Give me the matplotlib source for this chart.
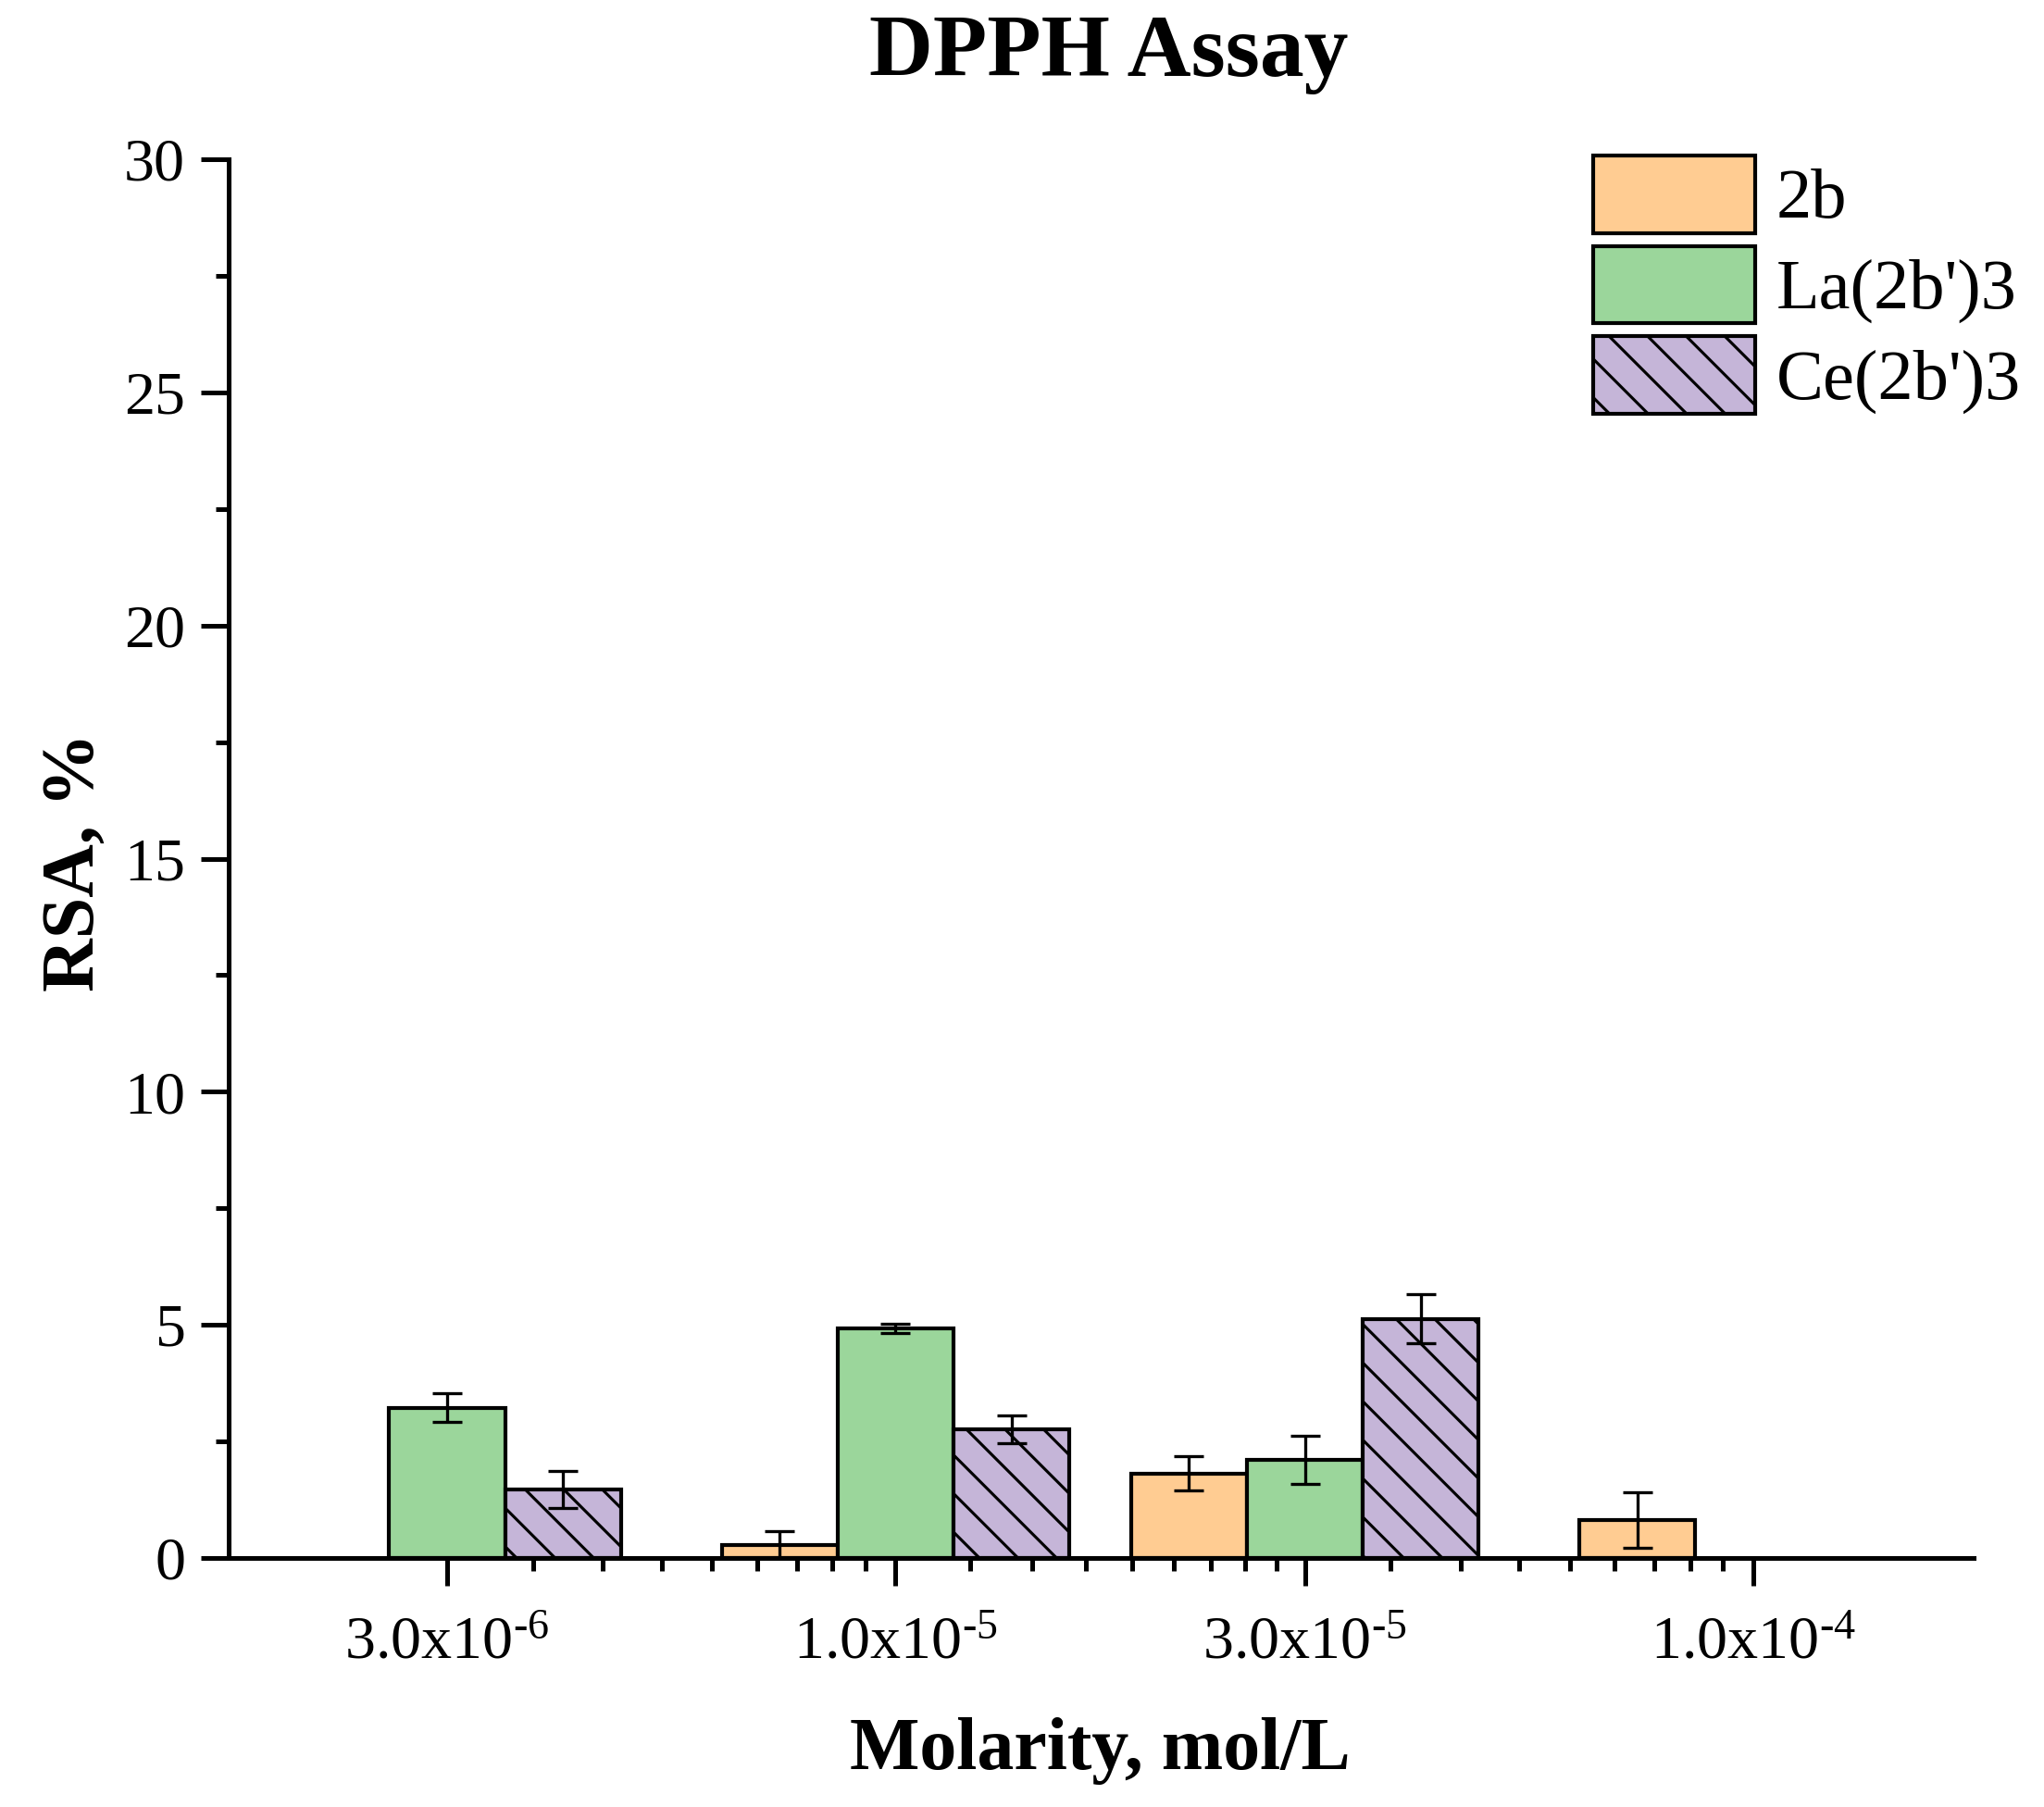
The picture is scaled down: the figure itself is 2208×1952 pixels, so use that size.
import numpy as np
import matplotlib
matplotlib.use("Agg")
import matplotlib.pyplot as plt
from matplotlib.ticker import FixedLocator, NullFormatter, FixedFormatter, MultipleLocator

plt.rcParams['font.family'] = ['Liberation Serif', 'DejaVu Serif']
plt.rcParams['mathtext.fontset'] = 'custom'
plt.rcParams['mathtext.rm'] = 'Liberation Serif'
plt.rcParams['mathtext.it'] = 'Liberation Serif:italic'
plt.rcParams['mathtext.bf'] = 'Liberation Serif:bold'
plt.rcParams['hatch.linewidth'] = 0.9
plt.rcParams['hatch.color'] = 'black'

# ---- data ----
molarity = [3.0e-6, 1.0e-5, 3.0e-5, 1.0e-4]
tick_labels = [r"3.0x10$^{\text{-6}}$", r"1.0x10$^{\text{-5}}$",
               r"3.0x10$^{\text{-5}}$", r"1.0x10$^{\text{-4}}$"]
series_names = ["2b", "La(2b')3", "Ce(2b')3"]
rsa_2b = [np.nan, 0.27, 1.81, 0.81]
err_2b = [np.nan, 0.30, 0.37, 0.59]
rsa_la = [3.22, 4.93, 2.11, np.nan]
err_la = [0.31, 0.10, 0.52, np.nan]
rsa_ce = [1.47, 2.76, 5.13, np.nan]
err_ce = [0.40, 0.30, 0.52, np.nan]

colors = ['#FFCC92', '#9BD69B', '#C5B5D8']
hatches = ['', '', '\\\\']

DPI = 250
fig = plt.figure(figsize=(2208 / DPI, 1952 / DPI), dpi=DPI)
W, H = 2208, 1952
ax = fig.add_axes([247 / W, 1 - 1683 / H, (2132 - 247) / W, (1683 - 172) / H])
ax.set_xscale('log')

bw = 0.135  # bar width in decades
values = [rsa_2b, rsa_la, rsa_ce]
errors = [err_2b, err_la, err_ce]
handles = []
for k, (vals, errs, col, hat, name) in enumerate(zip(values, errors, colors, hatches, series_names)):
    off = k - 1
    first = None
    for m, v, e in zip(molarity, vals, errs):
        if np.isnan(v):
            continue
        lc = np.log10(m)
        left = 10 ** (lc + (off - 0.5) * bw)
        right = 10 ** (lc + (off + 0.5) * bw)
        b = ax.bar(left, v, width=right - left, align='edge', color=col,
                   edgecolor='black', linewidth=1.2, hatch=hat, zorder=2)
        ax.errorbar(10 ** (lc + off * bw), v, yerr=e, fmt='none', ecolor='black',
                    elinewidth=0.95, capsize=4.6, capthick=0.95, zorder=3)
        if first is None:
            first = b
    handles.append(first)

lmin = np.log10(molarity[0]) - (483 - 247) / 926.5
lmax = np.log10(molarity[-1]) + (2132 - 1894) / 926.5
ax.set_xlim(10 ** lmin, 10 ** lmax)
ax.set_ylim(0, 30)

ax.xaxis.set_major_locator(FixedLocator(molarity))
ax.xaxis.set_major_formatter(FixedFormatter(tick_labels))
minors = []
for a, b in zip(molarity[:-1], molarity[1:]):
    minors.extend(list(np.linspace(a, b, 10)[1:-1]))
ax.xaxis.set_minor_locator(FixedLocator(minors))
ax.xaxis.set_minor_formatter(NullFormatter())

ax.yaxis.set_major_locator(MultipleLocator(5))
ax.yaxis.set_minor_locator(MultipleLocator(2.5))

for s in ['top', 'right']:
    ax.spines[s].set_visible(False)
for s in ['left', 'bottom']:
    ax.spines[s].set_linewidth(1.45)

ax.tick_params(which='major', direction='out', length=8.5, width=1.45, labelsize=19)
ax.tick_params(which='minor', direction='out', length=4, width=1.45)
ax.tick_params(axis='y', which='major', pad=5)
ax.tick_params(axis='x', which='major', pad=9.5)

fig.text(1198 / W, 1 - 59 / H, "DPPH Assay", ha='center', va='center',
         fontsize=27.5, fontweight='bold')
fig.text(1188 / W, 1 - 1891 / H, "Molarity, mol/L", ha='center', va='center',
         fontsize=23, fontweight='bold')
fig.text(81 / W, 1 - 931 / H, "RSA, %", ha='center', va='center',
         fontsize=23, fontweight='bold', rotation=90)

leg = fig.legend(handles, series_names, loc='upper left',
                 bbox_to_anchor=(1721 / W, 1 - 168 / H), frameon=False,
                 fontsize=22, handlelength=2.29, handleheight=1.31,
                 labelspacing=0.18, handletextpad=0.3, borderpad=0, borderaxespad=0)

fig.savefig("out.png", dpi=DPI, facecolor='white')
